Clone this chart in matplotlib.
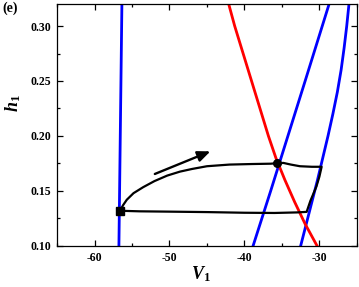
# phase-plane plot: nullclines and trajectory in (V1, h1)
import numpy as np
import matplotlib.pyplot as plt
from matplotlib.ticker import MultipleLocator

plt.rcParams['font.family'] = 'Liberation Serif'
plt.rcParams['font.weight'] = 'bold'
plt.rcParams['mathtext.fontset'] = 'custom'
plt.rcParams['mathtext.it'] = 'Liberation Serif:italic:bold'
plt.rcParams['mathtext.rm'] = 'Liberation Serif'

# blue nullcline, left (almost vertical)
blue_left_v = [-56.75, -56.35]
blue_left_h = [0.10, 0.32]

# red nullcline
red_h = [0.32, 0.30, 0.28, 0.26, 0.24, 0.22, 0.20, 0.18, 0.16, 0.14, 0.12, 0.10]
red_v = [-42.1, -41.3, -40.4, -39.5, -38.6, -37.7, -36.8, -35.8, -34.6,
         -33.3, -31.9, -30.3]

# blue nullcline, middle
blue_mid_h = [0.32, 0.25, 0.20, 0.15, 0.10]
blue_mid_v = [-28.7, -31.9, -34.2, -36.5, -38.85]

# blue nullcline, right
blue_right_h = [0.32, 0.30, 0.28, 0.26, 0.24, 0.22, 0.20, 0.18, 0.16, 0.14,
                0.12, 0.10]
blue_right_v = [-26.05, -26.35, -26.7, -27.1, -27.6, -28.2, -28.85, -29.55,
                -30.25, -31.0, -31.75, -32.5]

# trajectory (closed loop)
traj_v = [-56.6, -56.2, -55.7, -54.8, -53.5, -52.0, -50.3, -48.6, -47.0,
          -45.0, -42.0, -39.0, -36.5, -35.7, -34.8, -33.8, -32.6, -31.0,
          -29.7, -30.0, -30.4, -31.2, -31.7, -33.0, -36.0, -40.0, -45.0,
          -50.0, -54.0, -56.6]
traj_h = [0.132, 0.137, 0.142, 0.148, 0.1535, 0.159, 0.164, 0.1676, 0.170,
          0.1725, 0.174, 0.1745, 0.1748, 0.1752, 0.1755, 0.174, 0.1725, 0.172,
          0.172, 0.163, 0.154, 0.141, 0.131, 0.1305, 0.130, 0.1302, 0.1308,
          0.1312, 0.1315, 0.132]

square_pt = (-56.6, 0.132)
dot_pt = (-35.7, 0.1752)
arrow_start = (-52.3, 0.1645)
arrow_end = (-44.2, 0.187)

fig = plt.figure(figsize=(3.59, 2.87), dpi=100)
ax = fig.add_axes([0.159, 0.143, 0.835, 0.843])

ax.plot(blue_left_v, blue_left_h, color='#0000ff', lw=2.0)
ax.plot(blue_mid_v, blue_mid_h, color='#0000ff', lw=2.0)
ax.plot(blue_right_v, blue_right_h, color='#0000ff', lw=2.0)
ax.plot(red_v, red_h, color='#ff0000', lw=2.0)
ax.plot(traj_v, traj_h, color='black', lw=1.6)
ax.plot(*square_pt, 's', color='black', ms=5.5)
ax.plot(*dot_pt, 'o', color='black', ms=5.5)
ax.annotate('', xy=arrow_end, xytext=arrow_start,
            arrowprops=dict(arrowstyle='-|>,head_length=0.75,head_width=0.32',
                            color='black', lw=1.7))

ax.set_xlim(-65, -25)
ax.set_ylim(0.10, 0.32)
ax.xaxis.set_minor_locator(MultipleLocator(5))
ax.yaxis.set_minor_locator(MultipleLocator(0.025))
ax.set_xticks([-60, -50, -40, -30])
ax.set_xticklabels(['-60', '-50', '-40', '-30'])
ax.set_yticks([0.10, 0.15, 0.20, 0.25, 0.30])
ax.set_yticklabels(['0.10', '0.15', '0.20', '0.25', '0.30'])
ax.tick_params(which='both', direction='in', top=True, right=True,
               labelsize=8.5, width=0.9, pad=4)
ax.tick_params(which='major', length=4)
ax.tick_params(which='minor', length=2.5)
for s in ax.spines.values():
    s.set_linewidth(0.9)

fig.text(0.006, 0.97, '(e)', fontsize=10, fontweight='bold', va='center')
fig.text(0.036, 0.64, r'$h_{\mathrm{1}}$', fontsize=13, rotation=90,
         ha='center', va='center')
fig.text(0.56, 0.045, r'$V_{\mathrm{1}}$', fontsize=13,
         ha='center', va='center')

fig.savefig('out.png', dpi=100)
